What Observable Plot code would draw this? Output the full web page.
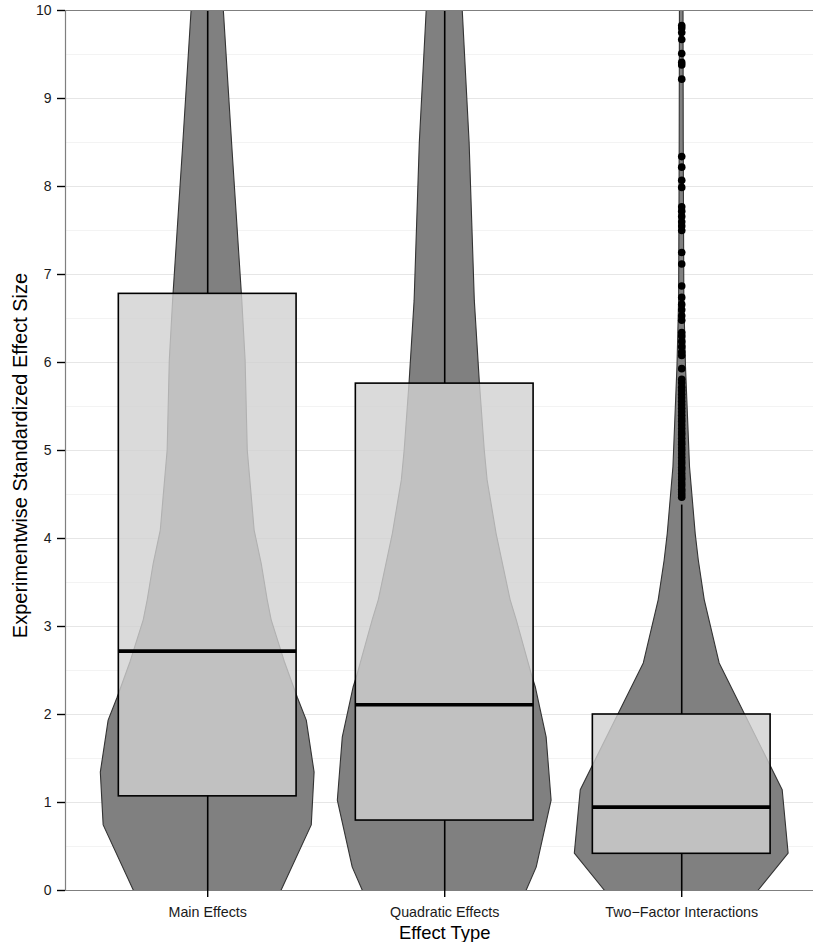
<!DOCTYPE html>
<html><head><meta charset="utf-8">
<script src="https://cdn.jsdelivr.net/npm/d3@7"></script>
<script src="https://cdn.jsdelivr.net/npm/@observablehq/plot@0.6"></script>
<style>body{margin:0;background:#fff;}</style>
</head><body><div id="chart"></div>
<script>
const categories = ["Main Effects", "Quadratic Effects", "Two\u2212Factor Interactions"];
const positions = [1, 2, 3];
const yTicks = [0, 1, 2, 3, 4, 5, 6, 7, 8, 9, 10];
const minorGrid = [0.5, 1.5, 2.5, 3.5, 4.5, 5.5, 6.5, 7.5, 8.5, 9.5];

// box plot statistics
const q1 = [1.07, 0.795, 0.417];
const medians = [2.72, 2.11, 0.947];
const q3 = [6.78, 5.76, 2.0];
const whiskerLow = [0, 0, 0];
const whiskerHigh = [16.5, 14.2, 4.38];

// violin profiles: value and half-width (in category units)
const violinMainY  = [-0.1, 0, 0.74, 1.34, 1.93, 2.19, 2.6, 3.07, 3.3, 3.71, 4.09, 4.47, 5.0, 6.02, 6.7, 8.4, 10, 10.5];
const violinMainHW = [0.300, 0.312, 0.439, 0.451, 0.418, 0.380, 0.325, 0.270, 0.253, 0.228, 0.198, 0.186, 0.169, 0.160, 0.146, 0.105, 0.068, 0.062];
const violinQuadY  = [-0.1, 0, 0.26, 1.02, 1.74, 2.31, 2.42, 3.07, 3.3, 3.67, 4.05, 4.66, 5.0, 5.78, 6.7, 8.5, 10, 10.5];
const violinQuadHW = [0.329, 0.346, 0.388, 0.451, 0.430, 0.384, 0.371, 0.304, 0.278, 0.249, 0.219, 0.181, 0.169, 0.148, 0.127, 0.105, 0.076, 0.068];
const violinTwoY   = [-0.1, 0, 0.42, 1.14, 2.58, 3.30, 3.75, 4.05, 4.81, 5.95, 6.7, 8.5, 10, 10.5];
const violinTwoHW  = [0.295, 0.325, 0.451, 0.426, 0.160, 0.097, 0.072, 0.059, 0.035, 0.018, 0.011, 0.0085, 0.0076, 0.0076];

// outliers of the Two-Factor Interactions group
const outliersTwo = [4.47, 4.5, 4.53, 4.56, 4.6, 4.63, 4.67, 4.7, 4.74, 4.78, 4.81, 4.85, 4.88, 4.92, 4.96, 5.0, 5.03, 5.07, 5.1, 5.14, 5.18, 5.21, 5.25, 5.29, 5.33, 5.36, 5.4, 5.44, 5.48, 5.52, 5.56, 5.6, 5.64, 5.68, 5.72, 5.77, 5.81, 5.93, 6.08, 6.12, 6.18, 6.24, 6.3, 6.34, 6.48, 6.53, 6.6, 6.66, 6.74, 6.87, 7.12, 7.25, 7.5, 7.55, 7.6, 7.66, 7.72, 7.77, 7.99, 8.07, 8.22, 8.34, 9.22, 9.38, 9.41, 9.51, 9.67, 9.75, 9.8, 9.83];

const violinSets = [[violinMainY, violinMainHW], [violinQuadY, violinQuadHW], [violinTwoY, violinTwoHW]];
const violinData = [];
violinSets.forEach(([ys, hws], i) => ys.forEach((y, j) => violinData.push({c: i, x: positions[i], y, hw: hws[j]})));
const boxData = positions.map((x, i) => ({x, q1: q1[i], med: medians[i], q3: q3[i], lo: whiskerLow[i], hi: whiskerHigh[i]}));
const outlierData = outliersTwo.map(y => ({x: positions[2], y}));
const boxHalf = 0.375;

const chart = Plot.plot({
  width: 813, height: 942,
  marginLeft: 65, marginRight: 0, marginTop: 10, marginBottom: 52,
  x: {type: "linear", domain: [0.4, 3.556], axis: null},
  y: {domain: [0, 10], axis: null},
  style: {fontFamily: "'Liberation Sans', Arial, sans-serif", background: "white", color: "#1a1a1a"},
  marks: [
    Plot.ruleY(minorGrid, {stroke: "#f3f3f3", strokeWidth: 1}),
    Plot.ruleY(yTicks, {stroke: "#e6e6e6", strokeWidth: 1}),
    Plot.areaX(violinData, {z: "c", y: "y", x1: d => d.x - d.hw, x2: d => d.x + d.hw, fill: "#808080", stroke: "#333333", strokeWidth: 1.1, clip: true}),
    Plot.ruleX(boxData, {x: "x", y1: "q3", y2: "hi", stroke: "black", strokeWidth: 1.6, clip: true}),
    Plot.ruleX(boxData, {x: "x", y1: "lo", y2: "q1", stroke: "black", strokeWidth: 1.6, clip: true}),
    Plot.rect(boxData, {x1: d => d.x - boxHalf, x2: d => d.x + boxHalf, y1: "q1", y2: "q3", fill: "#d1d1d1", fillOpacity: 0.8, stroke: "black", strokeWidth: 1.6}),
    Plot.ruleY(boxData, {y: "med", x1: d => d.x - boxHalf, x2: d => d.x + boxHalf, stroke: "black", strokeWidth: 3.6}),
    Plot.dot(outlierData, {x: "x", y: "y", r: 3.8, fill: "black", stroke: "none", clip: true}),
    Plot.ruleY([10], {stroke: "#7f7f7f", strokeWidth: 1.2}),
    Plot.ruleY([0], {stroke: "#7f7f7f", strokeWidth: 1.2}),
    Plot.ruleX([0.4], {stroke: "#7f7f7f", strokeWidth: 1.2}),
    Plot.axisY({ticks: yTicks, tickSize: 8, tickPadding: 6, fontSize: 14, label: null, strokeWidth: 1.4, stroke: "black"}),
    Plot.axisX({ticks: positions, tickFormat: d => categories[d - 1], tickSize: 7, tickPadding: 9, fontSize: 14.3, label: null, strokeWidth: 1.4, stroke: "black"}),
    Plot.text(["Experimentwise Standardized Effect Size"], {frameAnchor: "left", textAnchor: "middle", rotate: -90, dx: -45, dy: 5, fontSize: 20, fill: "black"}),
    Plot.text(["Effect Type"], {x: () => positions[1], frameAnchor: "bottom", dy: 48, fontSize: 18.4, fill: "black"})
  ]
});
document.getElementById("chart").appendChild(chart);
</script>
</body></html>
